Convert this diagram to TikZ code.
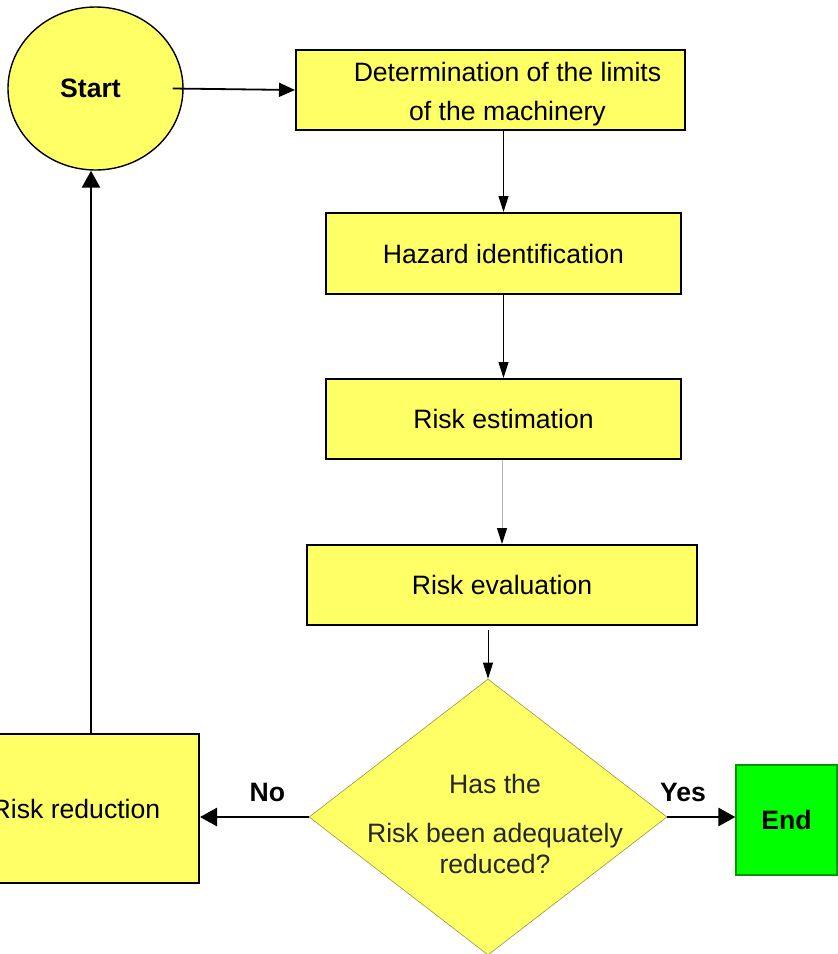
\documentclass[tikz,border=0pt]{standalone}
\usepackage{fontspec}
\setmainfont{Liberation Sans}
\usetikzlibrary{positioning, arrows.meta, shapes.geometric}
\definecolor{boxyellow}{RGB}{255,255,102}
\definecolor{endgreen}{RGB}{0,255,0}
\definecolor{endborder}{RGB}{0,150,0}
\definecolor{diamondline}{RGB}{150,150,70}

\begin{document}
\begin{tikzpicture}[x=0.5pt, y=-0.5pt,
      stepbox/.style={draw=black, line width=1pt, fill=boxyellow, align=center, font=\fontsize{13.3}{19.5}\selectfont, minimum height=40pt, inner sep=2pt},
      startbox/.style={ellipse, draw=black, line width=0.7pt, fill=boxyellow, font=\fontsize{13.3}{16}\selectfont\bfseries, minimum width=87.5pt, minimum height=81.5pt, inner sep=0pt},
      decisionbox/.style={diamond, draw=diamondline, line width=0.3pt, fill=boxyellow, aspect=1.3, minimum width=179pt, minimum height=138pt, inner sep=0pt},
      endbox/.style={draw=endborder, line width=0.6pt, fill=endgreen, font=\fontsize{13.3}{16}\selectfont\bfseries, minimum width=50.5pt, minimum height=55pt},
      labeltext/.style={font=\fontsize{13.3}{16}\selectfont\bfseries},
      flowarrow/.style={-{Triangle[width=5pt, length=8pt, color=black]}, line width=0.5pt},
      startarrow/.style={-{Triangle[width=7pt, length=8pt]}, line width=0.9pt},
      looparrow/.style={-{Triangle[width=9pt, length=8.5pt]}, line width=1.4pt}
    ]
      \useasboundingbox (0,0) rectangle (838,954);

      \node[startbox] (start) at (95.5,88.5) {\hspace*{-5pt}\raisebox{-1pt}{Start}};
      \node[stepbox, minimum width=194.5pt] (limits) at (490.5,90) {\hspace*{17pt}\rule{0pt}{14pt}Determination of the limits\\\hspace*{17pt}of the machinery};
      \node[stepbox, minimum width=177.5pt, minimum height=40.5pt] (hazard) at (503.5,253.5) {Hazard identification};
      \node[stepbox, minimum width=177.5pt, below=41.5pt of hazard] (estimation) {Risk estimation};
      \node[stepbox, minimum width=195pt, below=42pt of estimation, xshift=-0.75pt] (evaluation) {Risk evaluation};
      \node[decisionbox] (decision) at (488,817) {};
      \node[align=center, text=black!85, font=\fontsize{13.3}{15.5}\selectfont] (question) at (495,823.5) {Has the\\[9pt]Risk been adequately\\reduced?};
      \node[stepbox, minimum width=123pt, minimum height=74.5pt] (reduction) at (76,808.5) {Risk reduction};
      \node[endbox] (finish) at (786.5,820) {End};

      \draw[startarrow] ([xshift=-5.5pt]start.east) -- (limits.west);
      \draw[flowarrow] (limits.south -| hazard.north) -- (hazard.north);
      \draw[flowarrow] (hazard) -- (estimation);
      \draw[flowarrow, draw=gray!60] (estimation.south -| evaluation.north) -- (evaluation.north);
      \draw[flowarrow] ([yshift=-2pt]evaluation.south -| decision.north) -- (decision.north);

      \draw[looparrow] (decision.west) -- node[pos=0.38, above=3.5pt, labeltext] (no) {No} (decision.west -| reduction.east);
      \draw[looparrow] (decision.east) -- node[pos=0.23, above=3.5pt, labeltext] (yes) {Yes} (decision.east -| finish.west);
      \coordinate (loopend) at ([xshift=-2.25pt]start.south);
      \draw[looparrow] (reduction.north -| loopend) -- (loopend);
    \end{tikzpicture}
\end{document}
